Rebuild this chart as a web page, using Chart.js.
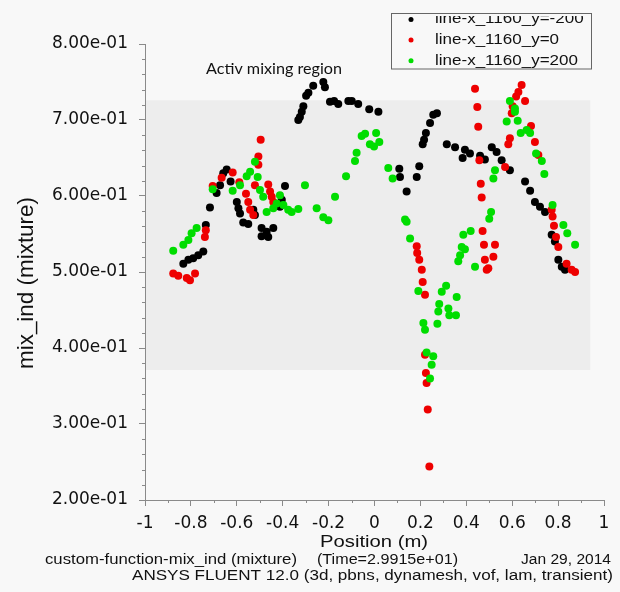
<!DOCTYPE html>
<html>
<head>
<meta charset="utf-8">
<script src="https://cdn.jsdelivr.net/npm/chart.js@4.4.1/dist/chart.umd.min.js"></script>
<style>
  html, body { margin: 0; padding: 0; background: #f8f8f8; }
  canvas { display: block; }
</style>
</head>
<body>
<canvas id="plot" width="620" height="592"></canvas>
<script>
// [position (m), mix_ind]
const black = [
  [-0.833,0.511],[-0.811,0.516],[-0.790,0.518],[-0.768,0.522],[-0.746,0.527],[-0.735,0.562],
  [-0.717,0.585],[-0.688,0.604],[-0.673,0.614],[-0.659,0.630],[-0.644,0.635],[-0.627,0.619],
  [-0.600,0.592],[-0.593,0.584],[-0.586,0.577],[-0.572,0.565],[-0.550,0.563],[-0.528,0.582],
  [-0.521,0.575],[-0.492,0.558],[-0.492,0.547],[-0.470,0.553],[-0.463,0.546],[-0.441,0.558],
  [-0.412,0.586],[-0.404,0.595],[-0.390,0.613],[-0.332,0.700],[-0.325,0.704],[-0.317,0.711],
  [-0.310,0.718],[-0.298,0.732],[-0.288,0.736],[-0.267,0.745],[-0.223,0.750],[-0.216,0.743],
  [-0.194,0.724],[-0.176,0.725],[-0.158,0.721],[-0.114,0.725],[-0.099,0.725],[-0.071,0.721],
  [-0.023,0.714],[0.017,0.711],[0.108,0.636],[0.111,0.625],[0.140,0.606],[0.184,0.625],
  [0.195,0.639],[0.210,0.668],[0.216,0.674],[0.224,0.683],[0.242,0.696],[0.256,0.707],
  [0.272,0.709],[0.315,0.668],[0.351,0.664],[0.384,0.650],[0.394,0.661],[0.416,0.656],
  [0.460,0.653],[0.481,0.648],[0.511,0.664],[0.532,0.658],[0.554,0.647],[0.590,0.634],
  [0.656,0.619],[0.678,0.607],[0.699,0.592],[0.721,0.586],[0.743,0.579],[0.772,0.549],
  [0.786,0.540],[0.801,0.516],[0.816,0.507],[0.830,0.503]
];
const red = [
  [-0.877,0.498],[-0.855,0.495],[-0.818,0.492],[-0.804,0.489],[-0.782,0.498],[-0.739,0.546],
  [-0.735,0.555],[-0.705,0.613],[-0.666,0.624],[-0.618,0.631],[-0.589,0.618],[-0.560,0.603],
  [-0.550,0.592],[-0.542,0.582],[-0.528,0.575],[-0.521,0.614],[-0.506,0.641],[-0.506,0.652],
  [-0.496,0.674],[-0.463,0.615],[-0.455,0.606],[-0.448,0.599],[-0.441,0.592],
  [0.184,0.534],[0.186,0.525],[0.195,0.516],[0.206,0.503],[0.210,0.487],[0.220,0.470],
  [0.220,0.391],[0.224,0.367],[0.227,0.354],[0.232,0.319],[0.239,0.244],
  [0.438,0.741],[0.448,0.717],[0.452,0.691],[0.457,0.647],[0.463,0.616],[0.467,0.598],
  [0.471,0.554],[0.477,0.536],[0.481,0.516],[0.489,0.503],[0.496,0.505],[0.518,0.520],
  [0.525,0.536],[0.569,0.638],[0.583,0.668],[0.590,0.676],[0.598,0.709],[0.602,0.718],
  [0.617,0.731],[0.627,0.737],[0.641,0.746],[0.656,0.725],[0.682,0.692],[0.699,0.671],
  [0.714,0.654],[0.772,0.582],[0.776,0.573],[0.782,0.561],[0.791,0.546],[0.801,0.533],
  [0.837,0.511],[0.859,0.503],[0.874,0.500]
];
const green = [
  [-0.877,0.528],[-0.833,0.536],[-0.811,0.542],[-0.797,0.551],[-0.775,0.558],[-0.705,0.609],
  [-0.618,0.607],[-0.586,0.614],[-0.557,0.626],[-0.542,0.632],[-0.521,0.645],[-0.509,0.625],
  [-0.499,0.608],[-0.485,0.599],[-0.470,0.579],[-0.441,0.584],[-0.426,0.590],[-0.412,0.601],
  [-0.397,0.588],[-0.376,0.582],[-0.361,0.579],[-0.332,0.583],[-0.303,0.614],[-0.252,0.584],
  [-0.223,0.572],[-0.201,0.568],[-0.172,0.599],[-0.124,0.626],[-0.085,0.646],[-0.078,0.657],
  [-0.056,0.679],[-0.041,0.682],[-0.020,0.668],[-0.002,0.665],[0.007,0.683],[0.021,0.671],
  [0.060,0.637],[0.079,0.623],[0.133,0.569],[0.140,0.566],[0.155,0.544],[0.191,0.475],
  [0.213,0.433],[0.220,0.424],[0.227,0.394],[0.256,0.389],[0.249,0.378],[0.242,0.360],
  [0.274,0.432],[0.278,0.448],[0.282,0.458],[0.293,0.474],[0.312,0.482],[0.322,0.452],
  [0.326,0.443],[0.355,0.443],[0.358,0.467],[0.365,0.514],[0.373,0.522],[0.380,0.533],
  [0.387,0.549],[0.394,0.530],[0.419,0.554],[0.438,0.507],[0.500,0.570],[0.508,0.579],
  [0.518,0.623],[0.525,0.634],[0.576,0.698],[0.590,0.725],[0.612,0.715],[0.612,0.711],
  [0.624,0.699],[0.637,0.683],[0.663,0.687],[0.678,0.683],[0.704,0.656],[0.729,0.646],
  [0.740,0.629],[0.776,0.588],[0.823,0.562],[0.840,0.551],[0.874,0.536]
];
const seriesNames = ["line-x_1160_y=-200", "line-x_1160_y=0", "line-x_1160_y=200"];
const seriesColors = ["#000000", "#ee0000", "#00dd00"];
// shaded "activ mixing region" in data units
const regionX = [-1, 0.94];
const regionY = [0.371, 0.726];

const toPts = arr => arr.map(p => ({ x: p[0], y: p[1] }));

function expLabel(v) {
  const parts = Number(v).toExponential(2).split("e");
  const n = parseInt(parts[1], 10);
  return parts[0] + "e" + (n < 0 ? "-" : "+") + String(Math.abs(n)).padStart(2, "0");
}

// text drawn stretched to a given width, like the screenshot
function wideText(ctx, text, x, y, size, width, family) {
  ctx.save();
  ctx.font = size + "px " + (family || "'Liberation Sans', Arial, sans-serif");
  const sx = width / ctx.measureText(text).width;
  ctx.translate(x, y);
  ctx.scale(sx, 1);
  ctx.textAlign = "left";
  ctx.textBaseline = "middle";
  ctx.fillText(text, 0, 0);
  ctx.restore();
}

const decor = {
  id: "decor",
  beforeDraw(chart) {
    const ctx = chart.ctx, xs = chart.scales.x, ys = chart.scales.y;
    ctx.save();
    ctx.fillStyle = "#f8f8f8";
    ctx.fillRect(0, 0, chart.width, chart.height);
    ctx.fillStyle = "#ededed";
    const x0 = xs.getPixelForValue(regionX[0]), x1 = xs.getPixelForValue(regionX[1]);
    const y0 = ys.getPixelForValue(regionY[1]), y1 = ys.getPixelForValue(regionY[0]);
    ctx.fillRect(x0, y0, x1 - x0, y1 - y0);
    ctx.restore();
  },
  afterDraw(chart) {
    const ctx = chart.ctx, xs = chart.scales.x, ys = chart.scales.y;
    ctx.save();
    // minor ticks
    ctx.strokeStyle = "#8a8a8a";
    ctx.lineWidth = 1;
    ctx.beginPath();
    for (let i = 1; i < 30; i++) {
      if (i % 5 === 0) continue;
      const py = Math.round(ys.getPixelForValue(0.2 + i * 0.02)) + 0.5;
      ctx.moveTo(chart.chartArea.left - 3, py);
      ctx.lineTo(chart.chartArea.left, py);
    }
    for (let i = 1; i < 20; i += 2) {
      const px = Math.round(xs.getPixelForValue(-1 + i * 0.1)) + 0.5;
      ctx.moveTo(px, chart.chartArea.bottom);
      ctx.lineTo(px, chart.chartArea.bottom + 3);
    }
    ctx.stroke();

    ctx.fillStyle = "#111";
    // annotation
    wideText(ctx, "Activ mixing region", 206, 69, 15, 136, "Lato, 'Open Sans', sans-serif");
    // axis titles
    wideText(ctx, "Position (m)", 320, 543, 16, 108);
    ctx.save();
    ctx.translate(33, 283);
    ctx.rotate(-Math.PI / 2);
    ctx.scale(1, 1.25);
    ctx.font = "18px 'Liberation Sans', Arial, sans-serif";
    const tw = ctx.measureText("mix_ind (mixture)").width;
    ctx.scale(172 / tw, 1);
    ctx.textAlign = "center";
    ctx.textBaseline = "alphabetic";
    ctx.fillText("mix_ind (mixture)", 0, 0);
    ctx.restore();
    // footer
    wideText(ctx, "custom-function-mix_ind (mixture)", 45, 560, 14, 252);
    wideText(ctx, "(Time=2.9915e+01)", 317, 560, 14, 141);
    wideText(ctx, "Jan 29, 2014", 521, 560, 14, 90);
    wideText(ctx, "ANSYS FLUENT 12.0 (3d, pbns, dynamesh, vof, lam, transient)", 132, 576, 14, 481);

    // legend box, top row cut by the frame as in the original
    ctx.strokeStyle = "#666";
    ctx.strokeRect(391.5, 13.5, 200, 55.5);
    ctx.beginPath();
    ctx.rect(392, 16, 199, 52);
    ctx.clip();
    ctx.font = "14px 'Liberation Sans', Arial, sans-serif";
    const lsx = 143 / ctx.measureText(seriesNames[2]).width;
    chart.data.datasets.forEach((ds, i) => {
      const cy = 19.5 + i * 20.6;
      ctx.fillStyle = ds.backgroundColor;
      ctx.beginPath();
      ctx.arc(411, cy, 2.5, 0, Math.PI * 2);
      ctx.fill();
      ctx.fillStyle = "#111";
      ctx.save();
      ctx.translate(435, cy);
      ctx.scale(lsx, 1);
      ctx.textBaseline = "middle";
      ctx.fillText(ds.label, 0, 0);
      ctx.restore();
    });
    ctx.restore();
  }
};

const series = [black, red, green];
new Chart(document.getElementById("plot").getContext("2d"), {
  type: "scatter",
  data: {
    datasets: series.map((s, i) => ({
      label: seriesNames[i],
      data: toPts(s),
      backgroundColor: seriesColors[i],
      borderWidth: 0,
      order: 3 - i
    }))
  },
  options: {
    responsive: false,
    animation: false,
    devicePixelRatio: 1,
    layout: { padding: { left: 0, right: 16, top: 44, bottom: 0 } },
    elements: { point: { radius: 4, hoverRadius: 4, borderWidth: 0 } },
    plugins: { legend: { display: false }, tooltip: { enabled: false } },
    scales: {
      x: {
        type: "linear", min: -1, max: 1,
        afterFit: s => { s.height = 92; },
        ticks: {
          stepSize: 0.2, autoSkip: false, maxRotation: 0, padding: 7, color: "#111",
          font: { family: "'DejaVu Sans'", size: 17 },
          callback: v => String(Math.round(v * 10) / 10)
        },
        grid: { drawOnChartArea: false, color: "#8a8a8a", tickLength: 6 },
        border: { color: "#8a8a8a" }
      },
      y: {
        type: "linear", min: 0.2, max: 0.8,
        afterFit: s => { s.width = 145; },
        ticks: {
          stepSize: 0.1, padding: 11, color: "#111",
          font: { family: "'DejaVu Sans'", size: 17 },
          callback: v => expLabel(v)
        },
        grid: { drawOnChartArea: false, color: "#8a8a8a", tickLength: 6 },
        border: { color: "#8a8a8a" }
      }
    }
  },
  plugins: [decor]
});
</script>
</body>
</html>
